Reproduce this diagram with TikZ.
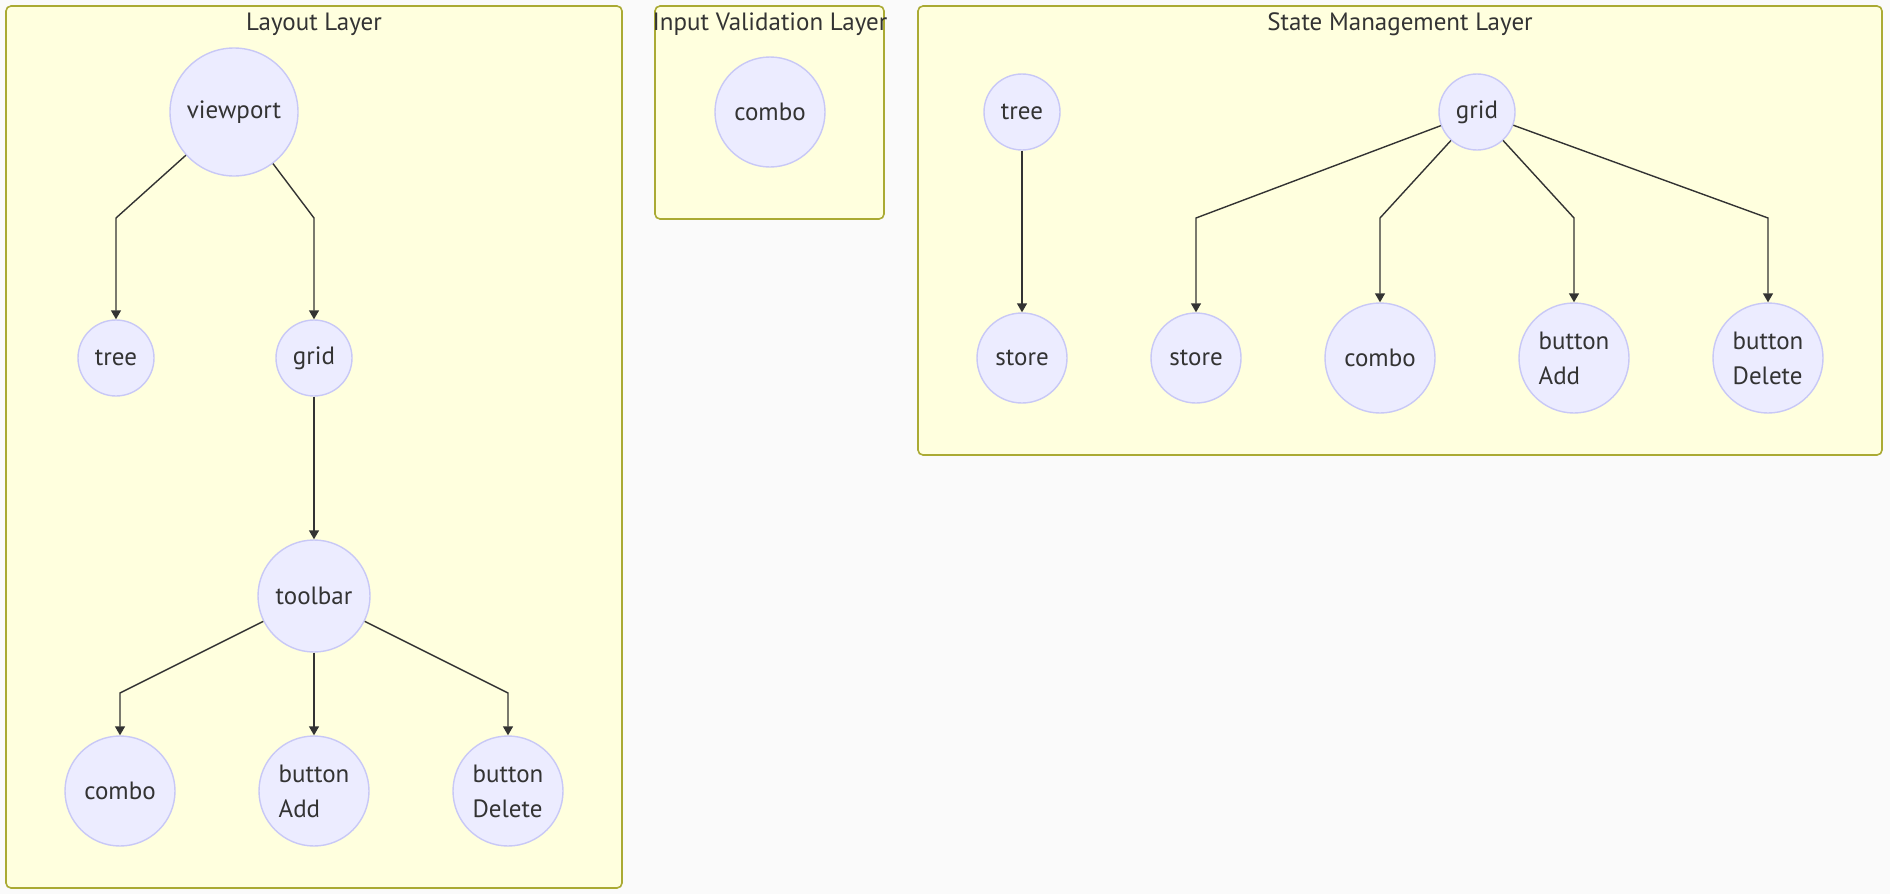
\documentclass[tikz,border=0pt]{standalone}
\usepackage{fontspec}
\setmainfont{PT Sans}
\usetikzlibrary{arrows.meta}
\definecolor{bg}{HTML}{FAFAFA}
\definecolor{clfill}{HTML}{FFFFDE}
\definecolor{clline}{HTML}{AAAA33}
\definecolor{ndfill}{HTML}{ECECFF}
\definecolor{ndline}{HTML}{C8C8F6}
\definecolor{txt}{HTML}{333333}
\tikzset{
  cluster/.style={draw=clline, fill=clfill, line width=1.6pt, rounded corners=5pt},
  cltitle/.style={text=txt, font=\fontsize{25}{28}\selectfont, anchor=center},
  nd/.style={circle, draw=ndline, fill=ndfill, line width=1.4pt, inner sep=0pt, text=txt,
    font=\fontsize{25}{35}\selectfont, align=left},
  r38/.style={nd, minimum size=76pt},
  r45/.style={nd, minimum size=90pt},
  r55/.style={nd, minimum size=110pt},
  r56/.style={nd, minimum size=112pt},
  r64/.style={nd, minimum size=128pt},
  edge/.style={draw=txt, line width=1.4pt, -{Triangle[width=10pt,length=9pt]}},
}
\begin{document}
\begin{tikzpicture}[x=1pt,y=-1pt]
\useasboundingbox (0,0) rectangle (1890,894);
\fill[bg] (0,0) rectangle (1890,894);
% clusters
\draw[cluster] (6,6) rectangle (622,888);
\node[cltitle] (tLayout) at (314,24) {Layout Layer};
\draw[cluster] (655,6) rectangle (884,219);
\node[cltitle] (tInput) at (770,24) {Input Validation Layer};
\draw[cluster] (918,6) rectangle (1882,455);
\node[cltitle] (tState) at (1400,24) {State Management Layer};
% Layout nodes
\node[r64] (Lviewport) at (234,112) {viewport};
\node[r38] (Ltree) at (116,358) {tree};
\node[r38] (Lgrid) at (314,358) {grid};
\node[r56] (Ltoolbar) at (314,596) {toolbar};
\node[r55] (Lcombo) at (120,791) {combo};
\node[r55] (Ladd) at (314,791) {button\\Add};
\node[r55] (Ldel) at (508,791) {button\\Delete};
% Input node
\node[r55] (Icombo) at (770,112) {combo};
% State nodes
\node[r38] (Stree) at (1022,112) {tree};
\node[r38] (Sgrid) at (1477,112) {grid};
\node[r45] (Sstore1) at (1022,358) {store};
\node[r45] (Sstore2) at (1196,358) {store};
\node[r55] (Scombo) at (1380,358) {combo};
\node[r55] (Sadd) at (1574,358) {button\\Add};
\node[r55] (Sdel) at (1768,358) {button\\Delete};
% bend points
\coordinate (b1) at (116,218);
\coordinate (b2) at (314,218);
\coordinate (b3) at (120,693);
\coordinate (b4) at (508,693);
\coordinate (s1) at (1196,218);
\coordinate (s2) at (1380,218);
\coordinate (s3) at (1574,218);
\coordinate (s4) at (1768,218);
% edges
\draw[edge] (Lviewport) -- (b1) -- (Ltree);
\draw[edge] (Lviewport) -- (b2) -- (Lgrid);
\draw[edge] (Lgrid) -- (Ltoolbar);
\draw[edge] (Ltoolbar) -- (b3) -- (Lcombo);
\draw[edge] (Ltoolbar) -- (Ladd);
\draw[edge] (Ltoolbar) -- (b4) -- (Ldel);
\draw[edge] (Stree) -- (Sstore1);
\draw[edge] (Sgrid) -- (s1) -- (Sstore2);
\draw[edge] (Sgrid) -- (s2) -- (Scombo);
\draw[edge] (Sgrid) -- (s3) -- (Sadd);
\draw[edge] (Sgrid) -- (s4) -- (Sdel);
\end{tikzpicture}
\end{document}
